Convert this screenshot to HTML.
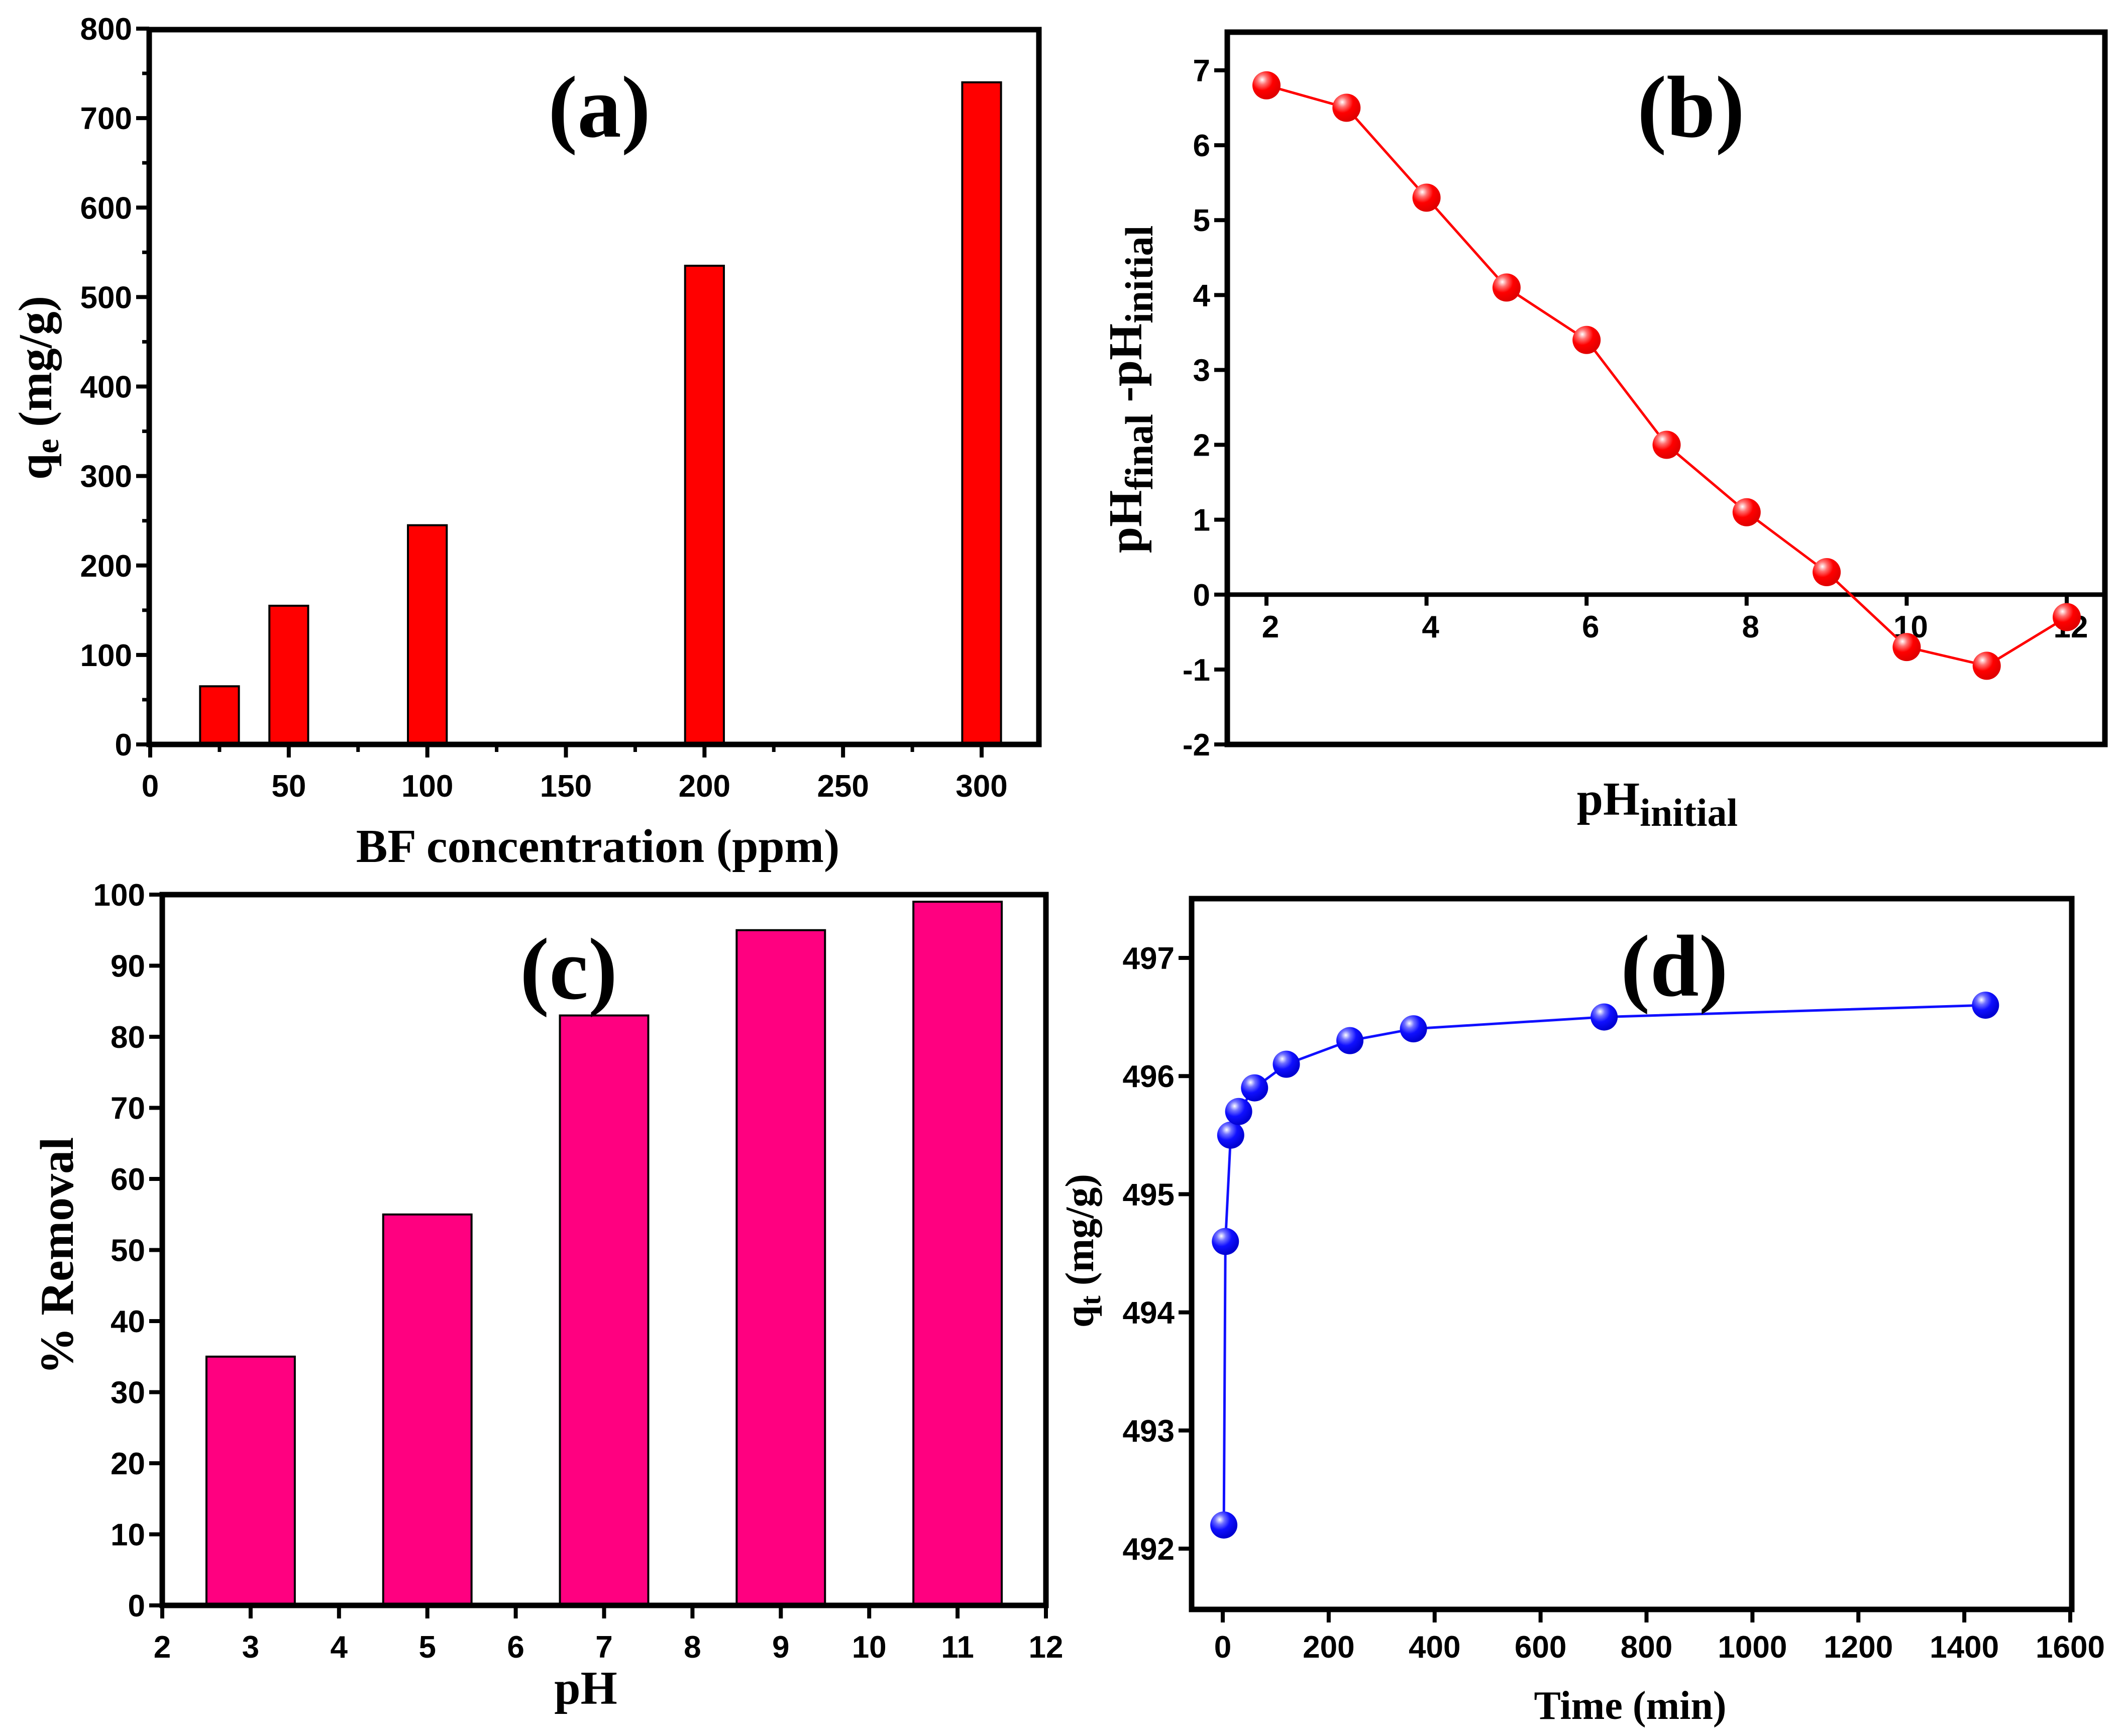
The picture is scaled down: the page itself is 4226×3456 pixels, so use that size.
<!DOCTYPE html>
<html><head><meta charset="utf-8"><style>
html,body{margin:0;padding:0;background:#fff}
svg{display:block}
.tk{font-family:"Liberation Sans Narrow","Liberation Sans",sans-serif;font-weight:bold;font-size:62px;fill:#000}
.ttl{font-family:"Liberation Serif",serif;font-weight:bold;fill:#000}
</style></head><body>
<svg id="fig" width="4226" height="3456" viewBox="0 0 4226 3456" xmlns="http://www.w3.org/2000/svg">
<defs>
<radialGradient id="gr" cx="0.35" cy="0.3" r="0.7"><stop offset="0" stop-color="#fff"/><stop offset="0.25" stop-color="#ff7070"/><stop offset="0.55" stop-color="#ff0000"/><stop offset="1" stop-color="#e00000"/></radialGradient>
<radialGradient id="gb" cx="0.35" cy="0.3" r="0.7"><stop offset="0" stop-color="#fff"/><stop offset="0.25" stop-color="#7070ff"/><stop offset="0.55" stop-color="#1010ff"/><stop offset="1" stop-color="#0000d0"/></radialGradient>
</defs>
<g id="pa"></g>
<g id="pb"></g>
<g id="pc"></g>
<g id="pd"></g>
</svg>
<script>
// Panel (a)
const aCats = [25, 50, 100, 200, 300];
const aVals = [65, 155, 245, 535, 740];
const aXTicks = [0, 50, 100, 150, 200, 250, 300];
const aYTicks = [0, 100, 200, 300, 400, 500, 600, 700, 800];
// Panel (b)
const bX = [2, 3, 4, 5, 6, 7, 8, 9, 10, 11, 12];
const bY = [6.8, 6.5, 5.3, 4.1, 3.4, 2.0, 1.1, 0.3, -0.7, -0.95, -0.3];
const bXTicks = [2, 4, 6, 8, 10, 12];
const bYTicks = [-2, -1, 0, 1, 2, 3, 4, 5, 6, 7];
// Panel (c)
const cCats = [3, 5, 7, 9, 11];
const cVals = [35, 55, 83, 95, 99];
const cXTicks = [2, 3, 4, 5, 6, 7, 8, 9, 10, 11, 12];
const cYTicks = [0, 10, 20, 30, 40, 50, 60, 70, 80, 90, 100];
// Panel (d)
const dX = [2, 5, 15, 30, 60, 120, 240, 360, 720, 1440];
const dY = [492.2, 494.6, 495.5, 495.7, 495.9, 496.1, 496.3, 496.4, 496.5, 496.6];
const dXTicks = [0, 200, 400, 600, 800, 1000, 1200, 1400, 1600];
const dYTicks = [492, 493, 494, 495, 496, 497];

const NS = "http://www.w3.org/2000/svg";
function mk(parent, tag, attrs, text) {
  const e = document.createElementNS(NS, tag);
  for (const k in attrs) e.setAttribute(k, attrs[k]);
  if (text !== undefined) e.textContent = text;
  parent.appendChild(e);
  return e;
}
function scale(d0, d1, r0, r1) { return v => r0 + (v - d0) / (d1 - d0) * (r1 - r0); }

function frame(g, L, T, R, B) {
  const f = mk(g, 'rect', {x: L, y: T, width: R - L, height: B - T, fill: 'none', stroke: '#000', 'stroke-width': 11});
  
  
}
function yAxis(g, ys, ticks, L, minor) {
  ticks.forEach(t => {
    const y = ys(t);
    const l = mk(g, 'line', {x1: L - 26, x2: L, y1: y, y2: y, stroke: '#000', 'stroke-width': 8});
    
    
    const tx = mk(g, 'text', {x: L - 34, y: y + 22, 'text-anchor': 'end', class: 'tk'}, String(t));
    
    
  });
  if (minor) for (let i = 0; i < ticks.length - 1; i++) {
    const y = ys((ticks[i] + ticks[i + 1]) / 2);
    const l = mk(g, 'line', {x1: L - 14, x2: L, y1: y, y2: y, stroke: '#000', 'stroke-width': 7});
    
    
  }
}
function xAxis(g, xs, ticks, B, minor, labY) {
  ticks.forEach(t => {
    const x = xs(t);
    const l = mk(g, 'line', {x1: x, x2: x, y1: B, y2: B + 26, stroke: '#000', 'stroke-width': 8});
    
    
    const tx = mk(g, 'text', {x: x, y: labY, 'text-anchor': 'middle', class: 'tk'}, String(t));
    
    
  });
  if (minor) for (let i = 0; i < ticks.length - 1; i++) {
    const x = xs((ticks[i] + ticks[i + 1]) / 2);
    const l = mk(g, 'line', {x1: x, x2: x, y1: B, y2: B + 15, stroke: '#000', 'stroke-width': 7});
    
    
  }
}
function label(g, txt, x, y, size, name) {
  const t = mk(g, 'text', {x: x, y: y, 'text-anchor': 'middle', class: 'ttl', 'font-size': size}, txt);
  
  
  return t;
}
function vlabel(g, x, y, size, name) {
  const t = mk(g, 'text', {x: 0, y: 0, 'text-anchor': 'middle', class: 'ttl', 'font-size': size, transform: `translate(${x},${y}) rotate(-90)`});
  
  
  return t;
}

// ---- Panel a
(function () {
  const g = document.getElementById('pa');
  const L = 297, R = 2068, T = 59, B = 1482;
  const xs = scale(0, 300, 299, 1954), ys = scale(0, 800, B, 57);
  aCats.forEach((c, i) => {
    const w = xs(7) - xs(0);
    const r = mk(g, 'rect', {x: xs(c) - w, y: ys(aVals[i]), width: 2 * w, height: B - ys(aVals[i]), fill: '#ff0000', stroke: '#000', 'stroke-width': 4});
    
    
  });
  frame(g, L, T, R, B);
  yAxis(g, ys, aYTicks, L, true);
  xAxis(g, xs, aXTicks, B, true, 1586);
  label(g, 'BF concentration (ppm)', 1190, 1716, 94, 'x-axis-title');
  label(g, '(a)', 1193, 272, 175, 'panel-label');
  const yl = vlabel(g, 102, 772, 94, 'y-axis-title');
  yl.innerHTML = 'q<tspan font-size="66" dy="14">e</tspan><tspan dy="-14"> (mg/g)</tspan>';
})();

// ---- Panel b
(function () {
  const g = document.getElementById('pb');
  const L = 2443, R = 4190, T = 64, B = 1482;
  const xs = scale(2, 12, 2521, 4114), ys = scale(-2, 7, B, 140);
  const z = ys(0);
  const zl = mk(g, 'line', {x1: L, x2: R, y1: z, y2: z, stroke: '#000', 'stroke-width': 9});
  
  
  bXTicks.forEach(t => {
    const l = mk(g, 'line', {x1: xs(t), x2: xs(t), y1: z, y2: z + 22, stroke: '#000', 'stroke-width': 8});
    
    
    const tx = mk(g, 'text', {x: xs(t) + 8, y: z + 85, 'text-anchor': 'middle', class: 'tk'}, String(t));
    
    
  });
  const pl = mk(g, 'polyline', {points: bX.map((x, i) => xs(x) + ',' + ys(bY[i])).join(' '), fill: 'none', stroke: '#ff0000', 'stroke-width': 5});
  
  
  bX.forEach((x, i) => {
    const c = mk(g, 'circle', {cx: xs(x), cy: ys(bY[i]), r: 28, fill: 'url(#gr)'});
    
    
  });
  frame(g, L, T, R, B);
  yAxis(g, ys, bYTicks, L, false);
  label(g, '(b)', 3366, 272, 175, 'panel-label');
  const xl = label(g, '', 3299, 1622, 94, 'x-axis-title');
  xl.innerHTML = 'pH<tspan font-size="78" dy="22">initial</tspan>';
  const yl = vlabel(g, 2272, 775, 94, 'y-axis-title');
  yl.innerHTML = 'pH<tspan font-size="78" dy="22">final</tspan><tspan dy="-22"> -pH</tspan><tspan font-size="78" dy="22">initial</tspan>';
})();

// ---- Panel c
(function () {
  const g = document.getElementById('pc');
  const L = 323, R = 2082, T = 1781, B = 3196;
  const xs = scale(2, 12, 323, 2082), ys = scale(0, 100, B, 1781);
  cCats.forEach((c, i) => {
    const r = mk(g, 'rect', {x: xs(c - 0.5), y: ys(cVals[i]), width: xs(c + 0.5) - xs(c - 0.5), height: B - ys(cVals[i]), fill: '#ff0080', stroke: '#000', 'stroke-width': 4});
    
    
  });
  frame(g, L, T, R, B);
  yAxis(g, ys, cYTicks, L, false);
  xAxis(g, xs, cXTicks, B, false, 3300);
  label(g, '(c)', 1132, 1988, 175, 'panel-label');
  label(g, 'pH', 1166, 3392, 94, 'x-axis-title');
  const yl = vlabel(g, 145, 2500, 94, 'y-axis-title');
  yl.textContent = '% Removal';
})();

// ---- Panel d
(function () {
  const g = document.getElementById('pd');
  const L = 2372, R = 4124, T = 1789, B = 3204;
  const xs = scale(0, 1600, 2434, 4121), ys = scale(492, 497, 3083, 1907);
  const pl = mk(g, 'polyline', {points: dX.map((x, i) => xs(x) + ',' + ys(dY[i])).join(' '), fill: 'none', stroke: '#1010ff', 'stroke-width': 5});
  
  
  dX.forEach((x, i) => {
    const c = mk(g, 'circle', {cx: xs(x), cy: ys(dY[i]), r: 27, fill: 'url(#gb)'});
    
    
  });
  frame(g, L, T, R, B);
  yAxis(g, ys, dYTicks, L, false);
  xAxis(g, xs, dXTicks, B, false, 3300);
  label(g, '(d)', 3333, 1982, 175, 'panel-label');
  label(g, 'Time (min)', 3245, 3422, 80, 'x-axis-title');
  const yl = vlabel(g, 2176, 2490, 80, 'y-axis-title');
  yl.innerHTML = 'q<tspan font-size="58" dy="14">t</tspan><tspan dy="-14"> (mg/g)</tspan>';
})();
</script>
</body></html>
